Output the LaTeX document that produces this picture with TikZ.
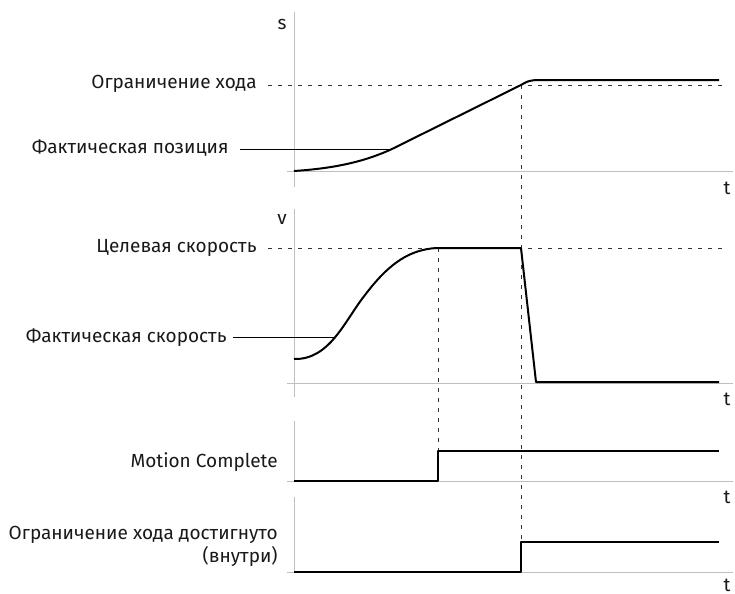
\documentclass[tikz,border=0pt]{standalone}
\usepackage{fontspec}
\setmainfont{Fira Sans}
\usetikzlibrary{positioning}
\begin{document}
\begin{tikzpicture}[
  x=0.5pt, y=-0.5pt,
  font=\fontsize{9.5}{11.5}\selectfont,
  axis/.style={draw=black!25, line width=0.5pt},
  signal/.style={draw=black, line width=1pt, line join=round},
  guide/.style={draw=black!80, line width=0.5pt, dash pattern=on 2pt off 3pt},
  leader/.style={draw=black, line width=0.5pt},
  caption/.style={anchor=east, align=right, inner sep=0pt, text=black!90},
  axname/.style={inner sep=0pt, text=black!90}
]
\useasboundingbox (0,0) rectangle (735,594);

% axes
\draw[axis] (294,12) -- (294,187);
\draw[axis] (287,171) -- (733,171);
\draw[axis] (294,209) -- (294,397);
\draw[axis] (287,383) -- (733,383);
\draw[axis] (294,421) -- (294,481);
\draw[axis] (287,481) -- (733,481);
\draw[axis] (294,497) -- (294,572);
\draw[axis] (287,572) -- (733,572);

\node[axname] (sname) at (282,24) {s};
\node[axname] (vname) at (282,219) {v};
\node[axname] (t1) at (727,188) {t};
\node[axname] (t2) at (727,399) {t};
\node[axname] (t3) at (727,497) {t};
\node[axname] (t4) at (727,585) {t};

% labels
\node[caption] (limit) at (257,84) {Ограничение хода};
\node[caption] (pos) at (229,148) {Фактическая позиция};
\node[caption] (target) at (257,248) {Целевая скорость};
\node[caption] (vel) at (227,338) {Фактическая скорость};
\node[caption] (mc) at (278,462) {Motion Complete};
\node[caption] (reached) at (278,546) {Ограничение хода достигнуто\\(внутри)};

\coordinate (limEnd) at (723,85);
\coordinate (targetEnd) at (723,248);
\coordinate (posTouch) at (392,149);
\coordinate (velTouch) at (336,337);
\coordinate (mcEdge) at (438,481);
\coordinate (limEdge) at (521,572);

% guides
\path[guide] ([xshift=5.5pt]limit.east |- limEnd) -- (limEnd);
\path[guide] ([xshift=5.5pt]target.east |- targetEnd) -- (targetEnd);
\path[guide] (521,85) -- (limEdge);
\path[guide] (438,248) -- (mcEdge);

% position
\path[signal] (294,171) .. controls (340,168) and (368,160) .. (posTouch)
  -- (521,85) .. controls (528,81) .. (536,80) -- (719,80);
% velocity
\path[signal] (294,359) .. controls (330,360) and (345,320) .. (365,295)
  .. controls (390,262) and (410,250) .. (436,248) -- (521,248)
  -- (536,382) -- (719,382);
% motion complete
\path[signal] (294,481) -- (mcEdge) -- (438,451) -- (719,451);
% stroke limit reached
\path[signal] (294,572) -- (limEdge) -- (521,542) -- (719,542);

% leaders
\path[leader] ([xshift=5.5pt]pos.east |- posTouch) -- (posTouch);
\path[leader] ([xshift=3pt]vel.east |- velTouch) -- (velTouch);

\end{tikzpicture}
\end{document}
